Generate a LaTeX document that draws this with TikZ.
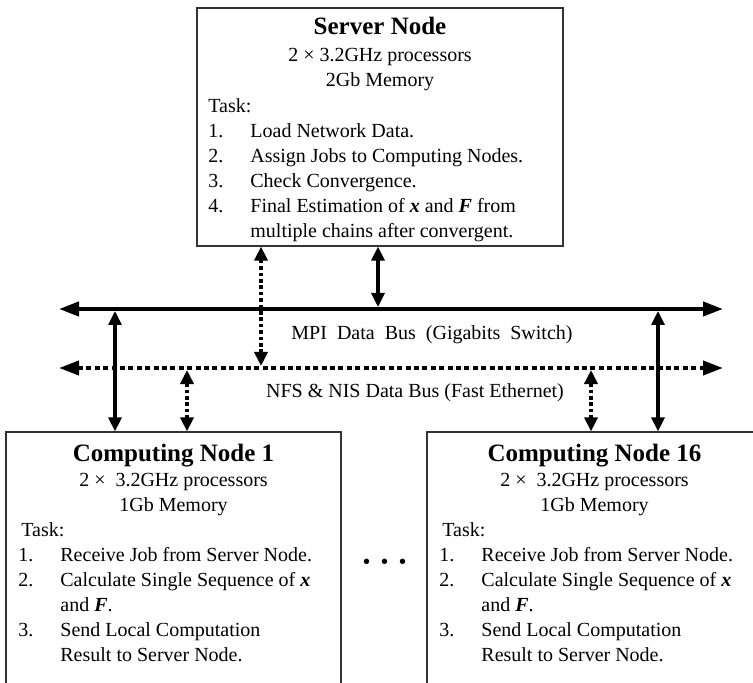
\documentclass[tikz,border=0pt]{standalone}
\usepackage{fontspec}
\setmainfont{Liberation Serif}
\usetikzlibrary{arrows.meta,positioning}

\tikzset{
  box/.style={draw=black!80, line width=0.6pt, rectangle, inner sep=0pt},
  txt/.style={inner sep=0pt, font=\fontsize{10}{12.5}\selectfont},
  ttl/.style={inner sep=0pt, font=\fontsize{12.5}{15}\selectfont\bfseries},
  bus/.style={line width=2pt, {Triangle[length=10pt,width=7pt]}-{Triangle[length=10pt,width=7pt]}},
  nfsbus/.style={bus, dash pattern=on 2.5pt off 1.7pt},
  link/.style={line width=1.6pt, {Triangle[length=7pt,width=6.5pt]}-{Triangle[length=7pt,width=6.5pt]}},
  dlink/.style={link, line width=1.8pt, dash pattern=on 1.8pt off 1.4pt},
}
\newcommand{\bx}{\textbf{\textit{x}}}
\newcommand{\bF}{\textbf{\textit{F}}}

\begin{document}
\begin{tikzpicture}[x=0.5pt, y=-0.5pt]
\useasboundingbox (0,0) rectangle (753,683);
\clip (0,0) rectangle (753,683);

% server
\node[box, minimum width=183pt, minimum height=119pt] (server) at (380,127) {};
\node[ttl, anchor=base] (stitle) at (380,35) {Server Node};
\node[txt, anchor=base] (scpu) at (380,62) {2 × 3.2GHz processors};
\node[txt, anchor=base] (smem) at (380,87) {2Gb Memory};
\node[txt, anchor=base west] (stask) at (208,113) {Task:};
\foreach \n/\t [count=\i] in {1./Load Network Data., 2./Assign Jobs to Computing Nodes.,
    3./Check Convergence., 4./Final Estimation of \bx{} and \bF{} from, /multiple chains after convergent.}
{
  \node[txt, anchor=base west] (s-l\i) at (208,{113+25*\i}) {\n};
  \node[txt, anchor=base west] (s-t\i) at (250,{113+25*\i}) {\t};
}

% computing nodes
\foreach \nm/\lx/\num in {c1/6/1, c16/427/16}
{
  \node[box, minimum width=167.5pt, minimum height=134pt] (\nm) at ({\lx+167.5},566) {};
  \node[ttl, anchor=base] (\nm-title) at ({\lx+167.5},461) {Computing Node \num};
  \node[txt, anchor=base] (\nm-cpu) at ({\lx+167.5},486) {2 ×~ 3.2GHz processors};
  \node[txt, anchor=base] (\nm-mem) at ({\lx+167.5},511) {1Gb Memory};
  \node[txt, anchor=base west] (\nm-task) at ({\lx+15},536) {Task:};
  \foreach \n/\t [count=\i] in {1./Receive Job from Server Node., 2./Calculate Single Sequence of \bx,
      /and \bF., 3./Send Local Computation, /Result to Server Node.}
  {
    \node[txt, anchor=base west] (\nm-l\i) at ({\lx+12},{536+25*\i}) {\n};
    \node[txt, anchor=base west] (\nm-t\i) at ({\lx+54},{536+25*\i}) {\t};
  }
}

\node[inner sep=0pt, font=\fontsize{16}{18}\selectfont\boldmath] (dots) at (385,562) {$\cdots$};

% buses
\coordinate (mpiL) at (59,309);
\coordinate (mpiR) at (723,309);
\coordinate (nfsL) at (59,368);
\coordinate (nfsR) at (723,368);
\draw[bus] (mpiL) -- (mpiR);
\draw[nfsbus] (nfsL) -- (nfsR);
\node[txt, anchor=base] (mpilbl) at (432,340) {MPI~ Data~ Bus~ (Gigabits~ Switch)};
\node[txt, anchor=base] (nfslbl) at (415,397) {NFS \& NIS Data Bus (Fast Ethernet)};

% links
\coordinate (smpi) at (378,307);
\coordinate (snfs) at (261,366);
\coordinate (c1mpi) at (115,311);
\coordinate (c1nfs) at (187,370);
\coordinate (c16nfs) at (591,370);
\coordinate (c16mpi) at (658,311);
\draw[link] (server.south -| smpi) -- (smpi);
\draw[dlink] (server.south -| snfs) -- (snfs);
\draw[link] (c1mpi) -- (c1mpi |- c1.north);
\draw[dlink] (c1nfs) -- (c1nfs |- c1.north);
\draw[dlink] (c16nfs) -- (c16nfs |- c16.north);
\draw[link] (c16mpi) -- (c16mpi |- c16.north);
\end{tikzpicture}
\end{document}
